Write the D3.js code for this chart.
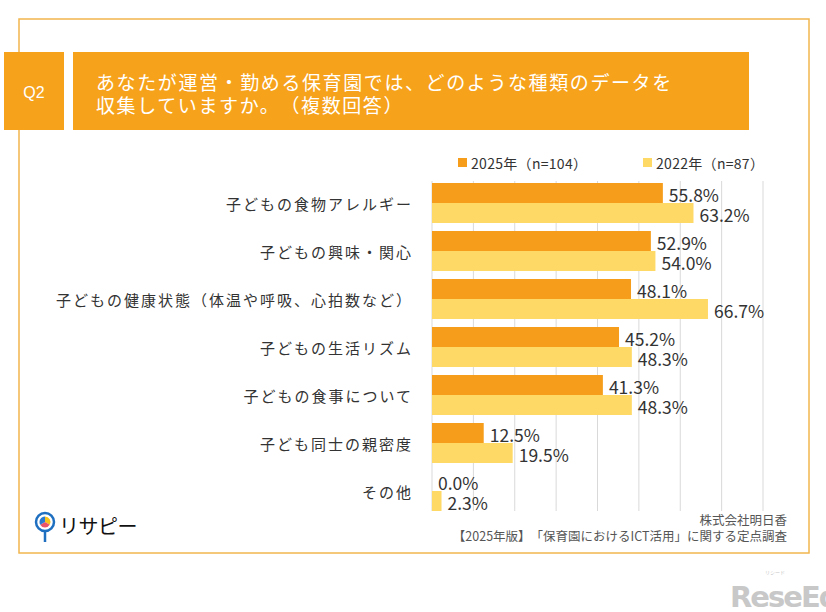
<!DOCTYPE html>
<html><head><meta charset="utf-8">
<script src="https://cdn.jsdelivr.net/npm/d3@7"></script>
<style>
html,body{margin:0;padding:0;background:#fff;}
svg{display:block;font-family:"Noto Sans CJK JP","Noto Sans",sans-serif;text-spacing-trim:space-all;font-feature-settings:"fwid" 0;}
</style></head>
<body>
<svg id="c" width="826" height="612"></svg>
<script>
const categories = ["子どもの食物アレルギー","子どもの興味・関心","子どもの健康状態（体温や呼吸、心拍数など）","子どもの生活リズム","子どもの食事について","子ども同士の親密度","その他"];
const series2025 = [55.8, 52.9, 48.1, 45.2, 41.3, 12.5, 0.0];
const series2022 = [63.2, 54.0, 66.7, 48.3, 48.3, 19.5, 2.3];
const seriesNames = ["2025年（n=104）","2022年（n=87）"];
const xTicks = [0,10,20,30,40,50,60,70,80];

const colors = ["#F69E1C","#FFD966"];
const svg = d3.select("#c");

// frame
svg.append("rect").attr("x",19).attr("y",19).attr("width",790).attr("height",534)
  .attr("fill","none").attr("stroke","#F2B74E").attr("stroke-width",1.5);

// header boxes
svg.append("rect").attr("x",4).attr("y",52).attr("width",60).attr("height",78).attr("fill","#F7A21B");
svg.append("text").attr("x",34).attr("y",92).attr("text-anchor","middle").attr("dominant-baseline","central")
  .attr("fill","#fff").attr("font-size",16).attr("font-family","Liberation Sans, Arial, sans-serif").text("Q2");
svg.append("rect").attr("x",73).attr("y",52).attr("width",676).attr("height",78).attr("fill","#F7A21B");
const tt = svg.append("text").attr("fill","#fff").attr("font-size",19).attr("letter-spacing",1.6);
tt.append("tspan").attr("x",96).attr("y",81).attr("dominant-baseline","central").text("あなたが運営・勤める保育園では、どのような種類のデータを");
tt.append("tspan").attr("x",96).attr("y",104).attr("dominant-baseline","central").text("収集していますか。（複数回答）");

// legend
const leg = [[458,seriesNames[0],colors[0]],[643,seriesNames[1],colors[1]]];
leg.forEach(([lx,t,c])=>{
  svg.append("rect").attr("x",lx).attr("y",158).attr("width",9).attr("height",9).attr("fill",c);
  svg.append("text").attr("x",lx+13).attr("y",162.5).attr("dominant-baseline","central")
    .attr("font-size",14).attr("letter-spacing",0.3).attr("fill","#333").text(t);
});

// scales
const x = d3.scaleLinear().domain([0,80]).range([432,763]);
const y = d3.scaleBand().domain(categories).range([179,515]).paddingInner(8/48).paddingOuter(4/48);
const sub = d3.scaleBand().domain([0,1]).range([0,y.bandwidth()]);

// gridlines
svg.append("g").selectAll("line").data(xTicks).join("line")
  .attr("x1",d=>x(d)).attr("x2",d=>x(d)).attr("y1",181).attr("y2",511)
  .attr("stroke","#D9D9D9").attr("stroke-width",1);

// bars
const data = categories.map((c,i)=>({c, v:[series2025[i],series2022[i]]}));
const g = svg.append("g");
data.forEach(d=>{
  d.v.forEach((v,j)=>{
    g.append("rect").attr("x",x(0)).attr("y",y(d.c)+sub(j)).attr("width",x(v)-x(0)).attr("height",sub.bandwidth())
      .attr("fill",colors[j]);
    g.append("text").attr("x",x(v)+6).attr("y",y(d.c)+sub(j)+sub.bandwidth()/2+1).attr("dominant-baseline","central")
      .attr("font-size",17.5).attr("fill","#333").text(v.toFixed(1)+"%");
  });
  g.append("text").attr("x",413).attr("y",y(d.c)+y.bandwidth()/2).attr("text-anchor","end").attr("dominant-baseline","central")
    .attr("font-size",15).attr("letter-spacing",2).attr("fill","#333").text(d.c);
});

// footer
svg.append("text").attr("x",787).attr("y",519).attr("text-anchor","end").attr("dominant-baseline","central")
  .attr("font-size",12.5).attr("fill","#555").text("株式会社明日香");
svg.append("text").attr("x",787).attr("y",535).attr("text-anchor","end").attr("dominant-baseline","central")
  .attr("font-size",12.5).attr("fill","#555").text("【2025年版】「保育園におけるICT活用」に関する定点調査");

// logo
const lg = svg.append("g");
lg.append("line").attr("x1",45).attr("x2",45).attr("y1",530).attr("y2",542).attr("stroke","#1E6FC0").attr("stroke-width",2.5);
lg.append("circle").attr("cx",45).attr("cy",522).attr("r",9).attr("fill","#fff").attr("stroke","#1E6FC0").attr("stroke-width",2.5);
const arc = d3.arc().innerRadius(0).outerRadius(5.5);
const pie = [[0,2.1,"#F6C21C"],[2.1,4.2,"#E9546B"],[4.2,6.283,"#2A7BD0"]];
pie.forEach(([a,b,c])=>lg.append("path").attr("d",arc({startAngle:a,endAngle:b})).attr("transform","translate(45,522)").attr("fill",c));
lg.append("text").attr("x",59).attr("y",525).attr("dominant-baseline","central").attr("font-size",20)
  .attr("fill","#111").attr("letter-spacing",-0.5).text("リサピー");

// watermark
svg.append("text").attr("x",730).attr("y",607).attr("font-size",29).attr("font-weight","bold")
  .attr("fill","#C8C8C8").attr("font-family","DejaVu Sans, sans-serif").attr("letter-spacing",-2).text("ReseEd");
svg.append("text").attr("x",775).attr("y",574).attr("text-anchor","middle").attr("font-size",5).attr("fill","#C8C8C8").text("リシード");
</script>
</body></html>
